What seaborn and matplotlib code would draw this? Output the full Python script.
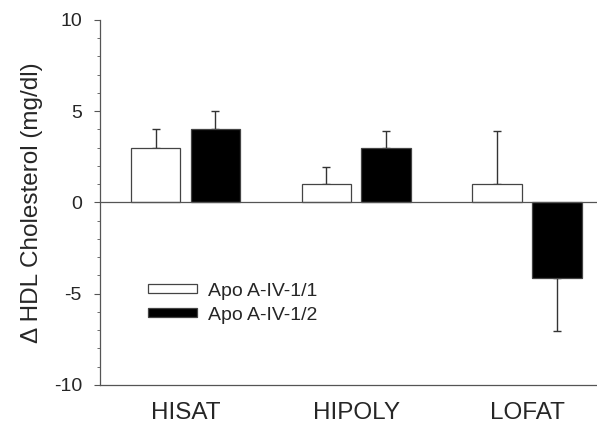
import numpy as np
import pandas as pd
import matplotlib
matplotlib.use("Agg")
import matplotlib.pyplot as plt
import seaborn as sns

diets = ["HISAT", "HIPOLY", "LOFAT"]
genotypes = ["Apo A-IV-1/1", "Apo A-IV-1/2"]
change_11 = [3.0, 1.0, 1.0]
change_12 = [4.0, 3.0, -4.15]
err_11 = [1.0, 0.95, 2.9]
err_12 = [1.0, 0.9, 2.9]

df = pd.DataFrame({
    "diet": diets * 2,
    "genotype": [genotypes[0]] * 3 + [genotypes[1]] * 3,
    "change": change_11 + change_12,
    "err": err_11 + err_12,
})

sns.set_style("ticks")
plt.rcParams["font.family"] = ["Liberation Sans", "DejaVu Sans"]
plt.rcParams["axes.unicode_minus"] = False

fig = plt.figure(figsize=(5.97, 4.23), dpi=100)
ax = fig.add_axes([0.1675, 0.09, 0.85, 0.863])

sns.barplot(data=df, x="diet", y="change", hue="genotype", order=diets,
            hue_order=genotypes, palette=["white", "black"], width=0.7, gap=0.17,
            edgecolor="#444444", linewidth=0.9, errorbar=None, ax=ax)

# one-sided error bars, drawn from the bar centres
for cont, g in zip(ax.containers, genotypes):
    sub = df[df.genotype == g].set_index("diet").loc[diets]
    xs = [p.get_x() + p.get_width() / 2 for p in cont.patches]
    vals = sub["change"].values
    errs = sub["err"].values
    lower = np.where(vals < 0, errs, 0)
    upper = np.where(vals >= 0, errs, 0)
    ax.errorbar(xs, vals, yerr=[lower, upper], fmt="none", ecolor="#333333",
                elinewidth=1.0, capsize=3, capthick=1.0, zorder=0)

ax.axhline(0, color="#555555", lw=0.9, zorder=1)
ax.set_xlim(-0.5, 2.47)
ax.set_ylim(-10, 10)
ax.set_yticks([-10, -5, 0, 5, 10])
ax.set_yticks(np.arange(-10, 11, 1), minor=True)
ax.tick_params(axis="y", which="major", length=4, width=0.8, color="#555555",
               labelsize=14, pad=9)
ax.tick_params(axis="y", which="minor", length=2, width=0.6, color="#555555")
ax.tick_params(axis="x", length=0, labelsize=17.5, pad=12)
ax.set_xlabel("")
ax.set_ylabel("Δ HDL Cholesterol (mg/dl)", fontsize=17.5, labelpad=8)
sns.despine(ax=ax)
for s in ["left", "bottom"]:
    ax.spines[s].set_color("#555555")
    ax.spines[s].set_linewidth(0.9)

ax.legend(loc="upper left", bbox_to_anchor=(0.095, 0.28), frameon=False,
          borderpad=0, borderaxespad=0,
          fontsize=14, handlelength=2.5, handleheight=0.36, handletextpad=0.6,
          labelspacing=0.35)

fig.savefig("out.png", dpi=100)
